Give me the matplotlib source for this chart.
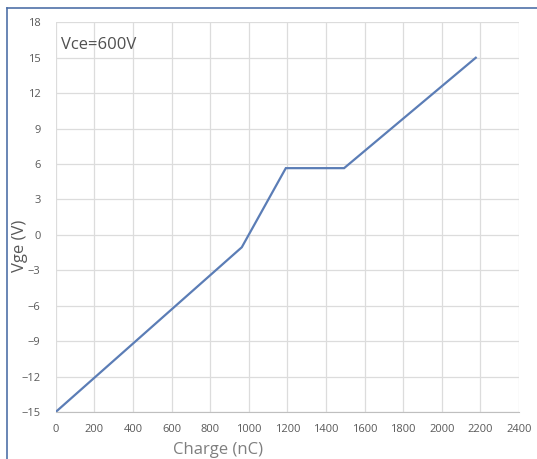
import matplotlib
matplotlib.use("Agg")
import matplotlib.pyplot as plt
from matplotlib.lines import Line2D

# Gate charge curve
charge = [0, 964, 1192, 1494, 2176]
vge = [-15, -1.05, 5.65, 5.65, 15]

xticks = list(range(0, 2401, 200))
yticks = list(range(-15, 19, 3))

plt.rcParams['font.family'] = ['Open Sans', 'DejaVu Sans']

fig = plt.figure(figsize=(5.37, 4.59), dpi=100)
ax = fig.add_axes([0.1037, 0.1024, 0.8628, 0.849])

ax.plot(charge, vge, color='#5b7db6', linewidth=1.6, solid_joinstyle='miter')

ax.set_xlim(0, 2400)
ax.set_ylim(-15, 18)
ax.set_xticks(xticks)
ax.set_yticks(yticks)
ax.grid(True, color='#dcdcdc', linewidth=0.9)
ax.set_axisbelow(True)
for s in ['top', 'right', 'left']:
    ax.spines[s].set_visible(False)
ax.spines['bottom'].set_color('#bfbfbf')
ax.tick_params(length=0, labelsize=8, colors='#595959', pad=9)
ax.tick_params(axis='y', pad=11)

ax.set_xlabel('Charge (nC)', fontsize=12, color='#7f7f7f')
ax.xaxis.set_label_coords(0.351, -0.076)
ax.set_ylabel('Vge (V)', fontsize=12, color='#595959')
ax.yaxis.set_label_coords(-0.06, 0.426)

ax.text(0.0115, 0.962, 'Vce=600V', transform=ax.transAxes, fontsize=12,
        color='#505050', va='top', ha='left')

# blue frame on left and top of the image
fig.add_artist(Line2D([7 / 537, 7 / 537], [0, 1 - 8 / 459], color='#4f71a8', linewidth=1.2,
                      transform=fig.transFigure))
fig.add_artist(Line2D([7 / 537, 1], [1 - 8 / 459, 1 - 8 / 459], color='#4f71a8', linewidth=1.2,
                      transform=fig.transFigure))

fig.savefig('out.png', dpi=100)
